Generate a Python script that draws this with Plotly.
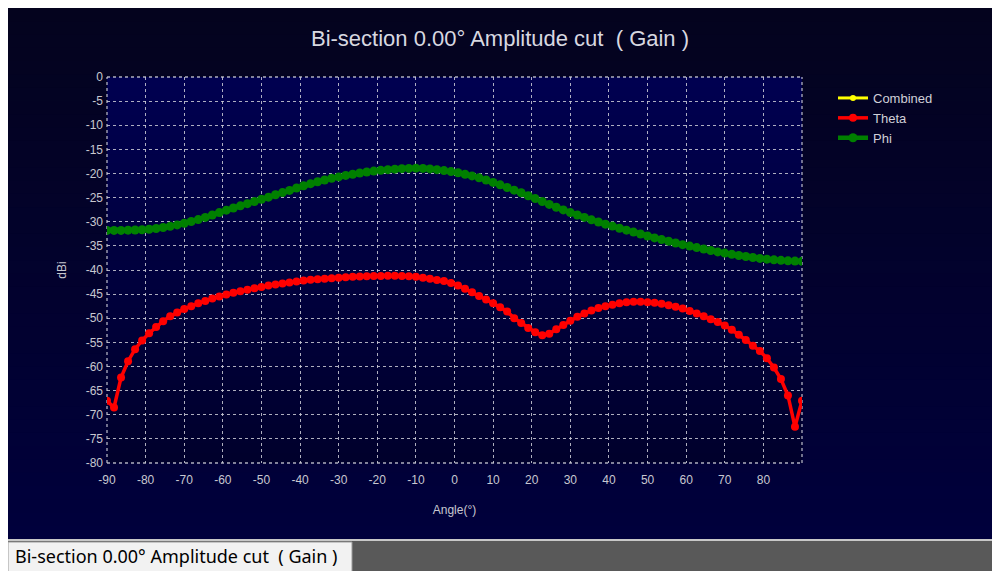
import plotly.graph_objects as go

# ---------------- data ----------------
angles = [round(-90 + i * 180 / 99, 3) for i in range(100)]

theta_dbi = [
    -67.1, -68.5, -62.3, -58.9, -56.4, -54.6, -53.1, -51.8, -50.6, -49.6,
    -48.8, -48.1, -47.5, -46.9, -46.4, -45.9, -45.5, -45.1, -44.7, -44.4,
    -44.1, -43.8, -43.5, -43.2, -43.0, -42.8, -42.6, -42.4, -42.2, -42.0,
    -41.9, -41.8, -41.7, -41.6, -41.5, -41.4, -41.35, -41.3, -41.25, -41.25,
    -41.2, -41.2, -41.25, -41.3, -41.4, -41.6, -41.8, -42.05, -42.3, -42.7,
    -43.2, -43.9, -44.6, -45.4, -46.1, -46.9, -47.7, -48.6, -50.0, -51.0,
    -52.0, -52.9, -53.5, -53.2, -52.3, -51.4, -50.5, -49.7, -49.0, -48.4,
    -47.9, -47.5, -47.2, -46.9, -46.7, -46.6, -46.6, -46.7, -46.8, -47.0,
    -47.3, -47.6, -48.0, -48.5, -49.0, -49.6, -50.2, -50.8, -51.5, -52.4,
    -53.4, -54.5, -55.7, -56.8, -58.3, -60.2, -62.6, -66.0, -72.5, -67.1,
]

phi_dbi = [
    -31.8, -31.8, -31.8, -31.75, -31.7, -31.65, -31.55, -31.4, -31.2, -30.95,
    -30.65, -30.3, -29.95, -29.55, -29.1, -28.6, -28.1, -27.6, -27.15, -26.7,
    -26.25, -25.8, -25.35, -24.9, -24.4, -23.95, -23.5, -23.0, -22.55, -22.1,
    -21.7, -21.35, -21.0, -20.7, -20.4, -20.15, -19.9, -19.7, -19.5, -19.35,
    -19.2, -19.1, -19.0, -18.95, -18.9, -18.95, -19.05, -19.2, -19.4, -19.6,
    -19.85, -20.15, -20.5, -20.9, -21.35, -21.85, -22.35, -22.9, -23.45, -24.0,
    -24.6, -25.2, -25.8, -26.4, -27.0, -27.55, -28.1, -28.6, -29.1, -29.6,
    -30.05, -30.5, -30.9, -31.35, -31.75, -32.15, -32.55, -32.95, -33.35, -33.7,
    -34.05, -34.4, -34.75, -35.05, -35.35, -35.65, -35.95, -36.25, -36.5, -36.75,
    -37.0, -37.2, -37.4, -37.6, -37.75, -37.9, -38.0, -38.1, -38.15, -38.2,
]

x_ticks = list(range(-90, 91, 10))
x_ticktext = [str(v) if v != 90 else "" for v in x_ticks]
y_ticks = list(range(-80, 1, 5))
y_ticktext = [str(v) for v in y_ticks]

title_text = "Bi-section 0.00\u00b0 Amplitude cut \u00a0( Gain )"

# ---------------- layout geometry ----------------
# page pixels; the page body adds an 8 px offset, so the figure origin is at (8, 8)
OFF = 8
W, H = 1000 - OFF, 571 - OFF
L, R, T, B = 107 - OFF, 802 - OFF, 77 - OFF, 463 - OFF
PW, PH = R - L, B - T


def px(page_x):
    return (page_x - OFF - L) / PW


def py(page_y):
    return (B - (page_y - OFF)) / PH


def lerp(c1, c2, t):
    return "rgb(%d,%d,%d)" % tuple(round(a + (b - a) * t) for a, b in zip(c1, c2))


shapes = []
# dark panel gradient (bands overlap to avoid seams)
panel_top, panel_bot = 8, 539
n = 40
step = (panel_bot - panel_top) / n
for i in range(n):
    y0p = panel_top + step * i
    y1p = min(panel_top + step * (i + 1) + 1.5, panel_bot)
    shapes.append(dict(type="rect", xref="paper", yref="paper", x0=px(8), x1=px(998),
                       y0=py(y1p), y1=py(y0p),
                       fillcolor=lerp((4, 3, 30), (0, 0, 60), i / (n - 1)),
                       line=dict(width=0), layer="below"))
# plot area gradient
stepp = PH / n
for i in range(n):
    y0p = T + OFF + stepp * i
    y1p = min(T + OFF + stepp * (i + 1) + 1.5, B + OFF)
    shapes.append(dict(type="rect", xref="paper", yref="paper", x0=0, x1=1,
                       y0=py(y1p), y1=py(y0p),
                       fillcolor=lerp((0, 0, 80), (0, 0, 44), i / (n - 1)),
                       line=dict(width=0), layer="below"))
# bottom bar
shapes.append(dict(type="rect", xref="paper", yref="paper", x0=px(0), x1=px(1002), y0=py(575), y1=py(541),
                   fillcolor="#595959", line=dict(width=0), layer="below"))
shapes.append(dict(type="rect", xref="paper", yref="paper", x0=px(8), x1=px(1002), y0=py(541), y1=py(539),
                   fillcolor="#c8c8c8", line=dict(width=0), layer="below"))
shapes.append(dict(type="rect", xref="paper", yref="paper", x0=px(8), x1=px(352), y0=py(575), y1=py(542),
                   fillcolor="#f2f2f2", line=dict(width=1, color="#9a9a9a"), layer="below"))

fig = go.Figure()

fig.add_trace(go.Scatter(
    x=[None], y=[None], name="Combined", mode="lines+markers",
    line=dict(color="#ffff00", width=3), marker=dict(color="#ffff00", size=6),
))
fig.add_trace(go.Scatter(
    x=angles, y=theta_dbi, name="Theta", mode="lines+markers",
    line=dict(color="#ff0000", width=3.5), marker=dict(color="#ff0000", size=8),
))
fig.add_trace(go.Scatter(
    x=angles, y=phi_dbi, name="Phi", mode="lines+markers",
    line=dict(color="#008000", width=4.5), marker=dict(color="#008000", size=9),
))

grid_col = "rgba(205,205,215,0.85)"
tick_font = dict(family="Liberation Sans, Arial", size=12, color="#c8c8d0")

fig.update_layout(
    width=W, height=H,
    margin=dict(l=L, r=W - R, t=T, b=H - B, pad=0),
    paper_bgcolor="#f0f0f0",
    plot_bgcolor="rgba(0,0,0,0)",
    shapes=shapes,
    title=dict(text=title_text, x=(500 - OFF) / W, xref="container", xanchor="center",
               y=1 - (38 - OFF) / H, yref="container", yanchor="middle",
               font=dict(family="Liberation Sans, Arial", size=22, color="#d8d8e0")),
    showlegend=True,
    legend=dict(x=px(833), y=py(83), xanchor="left", yanchor="top",
                bgcolor="rgba(0,0,0,0)", borderwidth=0, tracegroupgap=0,
                font=dict(family="Liberation Sans, Arial", size=13, color="#d0d0d8"),
                itemwidth=30),
    xaxis=dict(range=[-90, 90], tickmode="array", tickvals=x_ticks, ticktext=x_ticktext,
               showgrid=True, gridcolor=grid_col, gridwidth=1.3, griddash="dot",
               zeroline=False, showline=False, ticks="", ticklabelstandoff=8,
               tickfont=tick_font,
               title=dict(text="Angle(\u00b0)", standoff=19,
                          font=dict(family="Liberation Sans, Arial", size=12, color="#c8c8d0"))),
    yaxis=dict(range=[-80, 0], tickmode="array", tickvals=y_ticks, ticktext=y_ticktext,
               showgrid=True, gridcolor=grid_col, gridwidth=1.3, griddash="dot",
               zeroline=False, showline=False, ticks="", ticklabelstandoff=3,
               tickfont=tick_font,
               title=dict(text="dBi", standoff=16,
                          font=dict(family="Liberation Sans, Arial", size=12, color="#c8c8d0"))),
    annotations=[
        dict(text=title_text, xref="paper", yref="paper", x=px(13), y=py(556),
             xanchor="left", yanchor="middle", showarrow=False,
             font=dict(family="Noto Sans, DejaVu Sans", size=18, color="#000000")),
    ],
)

# dotted border on the plot edges
for (x0, x1, y0, y1) in [(0, 1, 0, 0), (0, 1, 1, 1), (0, 0, 0, 1), (1, 1, 0, 1)]:
    fig.add_shape(type="line", xref="paper", yref="paper", x0=x0, x1=x1, y0=y0, y1=y1,
                  line=dict(color=grid_col, width=1.3, dash="dot"), layer="below")

fig.write_html("out.html")
